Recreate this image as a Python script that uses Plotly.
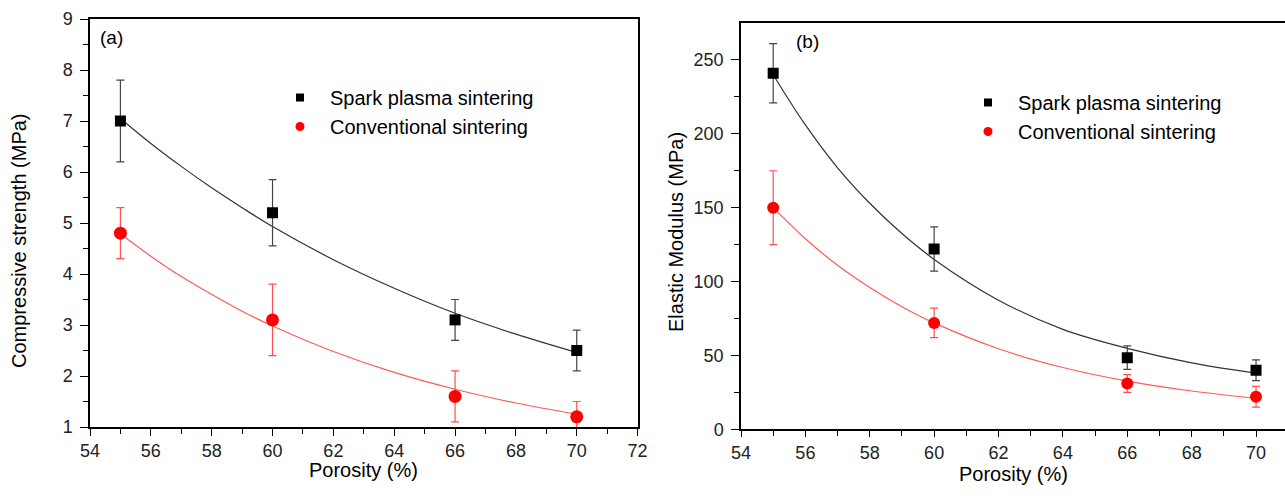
import plotly.graph_objects as go

# ---------------- data ----------------
porosity = [55, 60, 66, 70]

# (a) compressive strength (MPa)
cs_sps = [7.0, 5.2, 3.1, 2.5]
cs_sps_err = [0.8, 0.65, 0.4, 0.4]
cs_conv = [4.8, 3.1, 1.6, 1.2]
cs_conv_err = [0.5, 0.7, 0.5, 0.3]

# (b) elastic modulus (MPa)
em_sps = [241, 122, 48.5, 40]
em_sps_err = [20, 15, 8, 7]
em_conv = [150, 72, 31, 22]
em_conv_err = [25, 10, 6, 7]

# fitted curves, values
fit_x = [55, 56, 57, 58, 59, 60, 62, 64, 66, 68, 70]
fit_cs_sps = [7.05, 6.56, 6.11, 5.69, 5.30, 4.93, 4.28, 3.72, 3.23, 2.82, 2.46]
fit_cs_conv = [4.79, 4.35, 3.95, 3.60, 3.27, 2.98, 2.48, 2.07, 1.74, 1.47, 1.25]
fit_em_sps = [240, 206, 177, 153, 132.5, 115, 87.4, 67.6, 54.8, 45, 38]
fit_em_conv = [150, 129, 111, 96, 83, 72, 54.5, 41.8, 32.6, 25.9, 21]

x_ticks = [54, 56, 58, 60, 62, 64, 66, 68, 70, 72]

FONT = "Arial, Liberation Sans, sans-serif"
BLACK = "#000000"
RED = "#ff0000"

fig = go.Figure()

def add_panel(xa, ya, sps, sps_err, conv, conv_err, fit_sps, fit_conv, legend, msq, mci):
    fig.add_trace(go.Scatter(x=fit_x, y=fit_sps, mode="lines", line=dict(color="#333333", width=1.2, shape="spline"),
                             xaxis=xa, yaxis=ya, showlegend=False, hoverinfo="skip"))
    fig.add_trace(go.Scatter(x=fit_x, y=fit_conv, mode="lines", line=dict(color="#ff5a5a", width=1.2, shape="spline"),
                             xaxis=xa, yaxis=ya, showlegend=False, hoverinfo="skip"))
    fig.add_trace(go.Scatter(x=porosity, y=sps, mode="markers", name="Spark plasma sintering",
                             marker=dict(symbol="square", size=msq, color=BLACK),
                             error_y=dict(type="data", array=sps_err, visible=True, color="#444444", thickness=1.2, width=4),
                             xaxis=xa, yaxis=ya, showlegend=False))
    fig.add_trace(go.Scatter(x=porosity, y=conv, mode="markers", name="Conventional sintering",
                             marker=dict(symbol="circle", size=mci, color=RED),
                             error_y=dict(type="data", array=conv_err, visible=True, color="#ff5050", thickness=1.2, width=4),
                             xaxis=xa, yaxis=ya, showlegend=False))
    # legend entries
    fig.add_trace(go.Scatter(x=[None], y=[None], mode="markers", name="Spark plasma sintering",
                             marker=dict(symbol="square", size=8, color=BLACK), xaxis=xa, yaxis=ya, legend=legend))
    fig.add_trace(go.Scatter(x=[None], y=[None], mode="markers", name="Conventional sintering",
                             marker=dict(symbol="circle", size=9, color=RED), xaxis=xa, yaxis=ya, legend=legend))

add_panel("x", "y", cs_sps, cs_sps_err, cs_conv, cs_conv_err, fit_cs_sps, fit_cs_conv, "legend", 11, 13)
add_panel("x2", "y2", em_sps, em_sps_err, em_conv, em_conv_err, fit_em_sps, fit_em_conv, "legend2", 11, 12)

W, H = 1285, 503
axis_common = dict(showline=True, linecolor=BLACK, linewidth=1.5, ticks="outside", ticklen=8, tickwidth=1.2,
                   tickcolor=BLACK, showgrid=False, zeroline=False,
                   tickfont=dict(family=FONT, size=18, color="#222222"))
minor_common = dict(ticks="outside", ticklen=5, tickcolor=BLACK, tickwidth=1.2)

fig.update_layout(
    width=W, height=H,
    margin=dict(l=0, r=0, t=0, b=0, autoexpand=False),
    paper_bgcolor="white", plot_bgcolor="white",
    font=dict(family=FONT, color=BLACK),
    xaxis=dict(axis_common, domain=[90 / W, 637.6 / W], range=[54, 72], tickvals=x_ticks, mirror=True, ticklen=7,
               minor=dict(minor_common, dtick=1, tick0=54), anchor="y"),
    yaxis=dict(axis_common, domain=[1 - 427 / H, 1 - 19 / H], range=[1, 9], dtick=1, tick0=1, mirror=True,
               minor=dict(minor_common, dtick=0.5, tick0=1), anchor="x", ticklabelstandoff=4),
    xaxis2=dict(axis_common, domain=[741 / W, 1.0], range=[54, 70.9], tickvals=x_ticks, mirror=True, ticklen=6,
                minor=dict(minor_common, dtick=1, tick0=54), anchor="y2"),
    yaxis2=dict(axis_common, domain=[1 - 429.3 / H, 1 - 23.3 / H], range=[0, 274.8], dtick=50, tick0=0, mirror=False,
                minor=dict(minor_common, dtick=25, tick0=0), anchor="x2", ticklabelstandoff=4),
    legend=dict(x=270 / W, y=1 - 78 / H, xanchor="left", yanchor="top", bgcolor="rgba(0,0,0,0)",
                font=dict(family=FONT, size=20, color=BLACK), tracegroupgap=0, itemwidth=50),
    legend2=dict(x=958 / W, y=1 - 83 / H, xanchor="left", yanchor="top", bgcolor="rgba(0,0,0,0)",
                 font=dict(family=FONT, size=20, color=BLACK), tracegroupgap=0, itemwidth=50),
    showlegend=True,
)

ann = []
ann.append(dict(text="(a)", x=98 / W, y=1 - 38 / H, xref="paper", yref="paper", xanchor="left", yanchor="middle",
                showarrow=False, font=dict(family=FONT, size=19, color=BLACK)))
ann.append(dict(text="(b)", x=794 / W, y=1 - 42 / H, xref="paper", yref="paper", xanchor="left", yanchor="middle",
                showarrow=False, font=dict(family=FONT, size=19, color=BLACK)))
ann.append(dict(text="Porosity (%)", x=363 / W, y=1 - 470 / H, xref="paper", yref="paper", xanchor="center",
                yanchor="middle", showarrow=False, font=dict(family=FONT, size=20, color=BLACK)))
ann.append(dict(text="Porosity (%)", x=1013 / W, y=1 - 474 / H, xref="paper", yref="paper", xanchor="center",
                yanchor="middle", showarrow=False, font=dict(family=FONT, size=20, color=BLACK)))
ann.append(dict(text="Compressive strength (MPa)", x=19 / W, y=1 - 241 / H, xref="paper", yref="paper",
                xanchor="center", yanchor="middle", textangle=-90, showarrow=False,
                font=dict(family=FONT, size=20, color=BLACK)))
ann.append(dict(text="Elastic Modulus (MPa)", x=676 / W, y=1 - 232 / H, xref="paper", yref="paper",
                xanchor="center", yanchor="middle", textangle=-90, showarrow=False,
                font=dict(family=FONT, size=20, color=BLACK)))
fig.update_layout(annotations=ann)

fig.write_html("out.html",
               config={"displayModeBar": False},
               post_script="document.body.style.margin='0';document.body.style.padding='0';"
                           "document.body.style.overflow='hidden';")
